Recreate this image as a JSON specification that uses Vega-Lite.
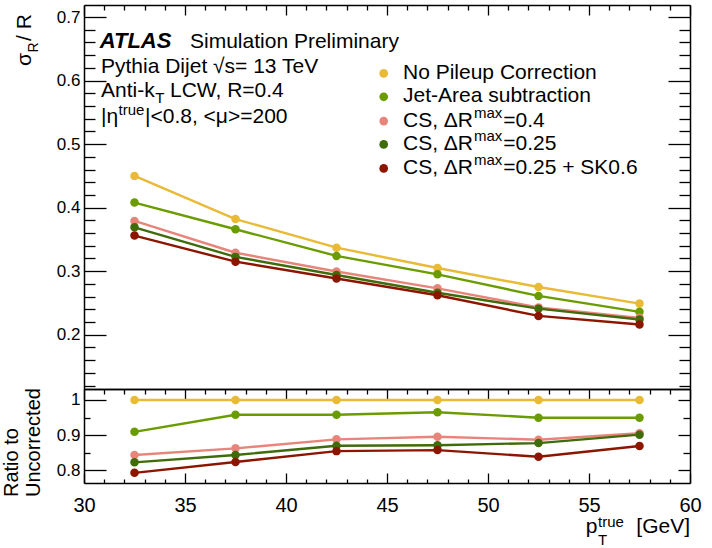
{
  "$schema": "https://vega.github.io/schema/vega-lite/v6.json",
  "background": "white",
  "padding": {"left": 2, "top": 4, "right": 0, "bottom": 0},
  "bounds": "flush",
  "spacing": 0,
  "config": {
    "view": {"stroke": null},
    "font": "Liberation Sans",
    "axis": {"domainColor": "black", "domainWidth": 1.5, "tickColor": "black", "tickWidth": 1.3, "labelColor": "black", "labelFont": "Liberation Sans", "grid": false, "title": null, "labelFlush": false, "labelOverlap": false}
  },
  "datasets": {
    "main": [
      {"m": "No Pileup Correction", "pt": 32.5, "v": 0.450}, {"m": "No Pileup Correction", "pt": 37.5, "v": 0.382}, {"m": "No Pileup Correction", "pt": 42.5, "v": 0.337}, {"m": "No Pileup Correction", "pt": 47.5, "v": 0.305}, {"m": "No Pileup Correction", "pt": 52.5, "v": 0.275}, {"m": "No Pileup Correction", "pt": 57.5, "v": 0.249},
      {"m": "Jet-Area subtraction", "pt": 32.5, "v": 0.408}, {"m": "Jet-Area subtraction", "pt": 37.5, "v": 0.366}, {"m": "Jet-Area subtraction", "pt": 42.5, "v": 0.324}, {"m": "Jet-Area subtraction", "pt": 47.5, "v": 0.295}, {"m": "Jet-Area subtraction", "pt": 52.5, "v": 0.261}, {"m": "Jet-Area subtraction", "pt": 57.5, "v": 0.236},
      {"m": "CS, ΔRmax=0.4", "pt": 32.5, "v": 0.379}, {"m": "CS, ΔRmax=0.4", "pt": 37.5, "v": 0.329}, {"m": "CS, ΔRmax=0.4", "pt": 42.5, "v": 0.2995}, {"m": "CS, ΔRmax=0.4", "pt": 47.5, "v": 0.273}, {"m": "CS, ΔRmax=0.4", "pt": 52.5, "v": 0.243}, {"m": "CS, ΔRmax=0.4", "pt": 57.5, "v": 0.2265},
      {"m": "CS, ΔRmax=0.25", "pt": 32.5, "v": 0.369}, {"m": "CS, ΔRmax=0.25", "pt": 37.5, "v": 0.3225}, {"m": "CS, ΔRmax=0.25", "pt": 42.5, "v": 0.294}, {"m": "CS, ΔRmax=0.25", "pt": 47.5, "v": 0.266}, {"m": "CS, ΔRmax=0.25", "pt": 52.5, "v": 0.241}, {"m": "CS, ΔRmax=0.25", "pt": 57.5, "v": 0.224},
      {"m": "CS, ΔRmax=0.25 + SK0.6", "pt": 32.5, "v": 0.356}, {"m": "CS, ΔRmax=0.25 + SK0.6", "pt": 37.5, "v": 0.315}, {"m": "CS, ΔRmax=0.25 + SK0.6", "pt": 42.5, "v": 0.2885}, {"m": "CS, ΔRmax=0.25 + SK0.6", "pt": 47.5, "v": 0.262}, {"m": "CS, ΔRmax=0.25 + SK0.6", "pt": 52.5, "v": 0.2296}, {"m": "CS, ΔRmax=0.25 + SK0.6", "pt": 57.5, "v": 0.216}
    ],
    "ratio": [
      {"m": "No Pileup Correction", "pt": 32.5, "v": 1.0}, {"m": "No Pileup Correction", "pt": 37.5, "v": 1.0}, {"m": "No Pileup Correction", "pt": 42.5, "v": 1.0}, {"m": "No Pileup Correction", "pt": 47.5, "v": 1.0}, {"m": "No Pileup Correction", "pt": 52.5, "v": 1.0}, {"m": "No Pileup Correction", "pt": 57.5, "v": 1.0},
      {"m": "Jet-Area subtraction", "pt": 32.5, "v": 0.909}, {"m": "Jet-Area subtraction", "pt": 37.5, "v": 0.958}, {"m": "Jet-Area subtraction", "pt": 42.5, "v": 0.958}, {"m": "Jet-Area subtraction", "pt": 47.5, "v": 0.965}, {"m": "Jet-Area subtraction", "pt": 52.5, "v": 0.9495}, {"m": "Jet-Area subtraction", "pt": 57.5, "v": 0.9495},
      {"m": "CS, ΔRmax=0.4", "pt": 32.5, "v": 0.843}, {"m": "CS, ΔRmax=0.4", "pt": 37.5, "v": 0.862}, {"m": "CS, ΔRmax=0.4", "pt": 42.5, "v": 0.8876}, {"m": "CS, ΔRmax=0.4", "pt": 47.5, "v": 0.895}, {"m": "CS, ΔRmax=0.4", "pt": 52.5, "v": 0.8867}, {"m": "CS, ΔRmax=0.4", "pt": 57.5, "v": 0.905},
      {"m": "CS, ΔRmax=0.25", "pt": 32.5, "v": 0.822}, {"m": "CS, ΔRmax=0.25", "pt": 37.5, "v": 0.843}, {"m": "CS, ΔRmax=0.25", "pt": 42.5, "v": 0.8695}, {"m": "CS, ΔRmax=0.25", "pt": 47.5, "v": 0.871}, {"m": "CS, ΔRmax=0.25", "pt": 52.5, "v": 0.877}, {"m": "CS, ΔRmax=0.25", "pt": 57.5, "v": 0.901},
      {"m": "CS, ΔRmax=0.25 + SK0.6", "pt": 32.5, "v": 0.792}, {"m": "CS, ΔRmax=0.25 + SK0.6", "pt": 37.5, "v": 0.823}, {"m": "CS, ΔRmax=0.25 + SK0.6", "pt": 42.5, "v": 0.854}, {"m": "CS, ΔRmax=0.25 + SK0.6", "pt": 47.5, "v": 0.857}, {"m": "CS, ΔRmax=0.25 + SK0.6", "pt": 52.5, "v": 0.838}, {"m": "CS, ΔRmax=0.25 + SK0.6", "pt": 57.5, "v": 0.8686}
    ],
    "txt": [
      {"t": "Simulation Preliminary", "x": 35.248, "y": 0.652},
      {"t": "Pythia Dijet √s= 13 TeV", "x": 30.842, "y": 0.6118},
      {"t": "Anti-k", "x": 30.842, "y": 0.574},
      {"t": "LCW, R=0.4", "x": 34.257, "y": 0.574},
      {"t": "|η", "x": 30.842, "y": 0.5331},
      {"t": "|<0.8, <μ>=200", "x": 33.02, "y": 0.5331},
      {"t": "No Pileup Correction", "x": 45.792, "y": 0.60268},
      {"t": "Jet-Area subtraction", "x": 45.792, "y": 0.56583},
      {"t": "CS, ΔR", "x": 45.792, "y": 0.52756},
      {"t": "CS, ΔR", "x": 45.792, "y": 0.49087},
      {"t": "CS, ΔR", "x": 45.792, "y": 0.45307},
      {"t": "=0.4", "x": 50.757, "y": 0.52756},
      {"t": "=0.25", "x": 50.757, "y": 0.49087},
      {"t": "=0.25 + SK0.6", "x": 50.757, "y": 0.45307}
    ],
    "sup": [
      {"t": "T", "x": 33.525, "y": 0.5646},
      {"t": "true", "x": 31.708, "y": 0.5457},
      {"t": "max", "x": 49.307, "y": 0.5409},
      {"t": "max", "x": 49.307, "y": 0.5042},
      {"t": "max", "x": 49.307, "y": 0.4664}
    ],
    "atlas": [{"t": "ATLAS", "x": 30.777, "y": 0.652}],
    "legdot": [
      {"m": "No Pileup Correction", "x": 44.837, "y": 0.61134},
      {"m": "Jet-Area subtraction", "x": 44.837, "y": 0.57449},
      {"m": "CS, ΔRmax=0.4", "x": 44.837, "y": 0.53622},
      {"m": "CS, ΔRmax=0.25", "x": 44.837, "y": 0.49953},
      {"m": "CS, ΔRmax=0.25 + SK0.6", "x": 44.837, "y": 0.46173}
    ],
    "ytitle": [
      {"t": "σ", "x": 27.376, "y": 0.6228},
      {"t": " / R", "x": 27.376, "y": 0.6625}
    ],
    "ytitlesub": [{"t": "R", "x": 27.723, "y": 0.6441}],
    "rtitle": [
      {"t": "Ratio to", "x": 26.733, "y": 0.7229},
      {"t": "Uncorrected", "x": 27.822, "y": 0.7229}
    ],
    "xtl": [{"t": "p", "x": 54.837, "y": 0.62}],
    "xtr": [{"t": "[GeV]", "x": 60, "y": 0.62}],
    "xts": [
      {"t": "T", "x": 55.446, "y": 0.5857},
      {"t": "true", "x": 55.446, "y": 0.6386}
    ]
  },
  "vconcat": [
    {
      "width": 606,
      "height": 384,
      "layer": [
        {
          "data": {"name": "main"},
          "mark": {"type": "line", "strokeWidth": 2.4},
          "encoding": {
            "x": {"field": "pt", "type": "quantitative", "scale": {"domain": [30, 60], "nice": false, "zero": false}, "axis": {"orient": "bottom", "labels": false, "ticks": false, "title": null}},
            "y": {"field": "v", "type": "quantitative", "scale": {"domain": [0.1145, 0.719], "nice": false, "zero": false}, "axis": {"orient": "left", "values": [0.12, 0.14, 0.16, 0.18, 0.2, 0.22, 0.24, 0.26, 0.28, 0.3, 0.32, 0.34, 0.36, 0.38, 0.4, 0.42, 0.44, 0.46, 0.48, 0.5, 0.52, 0.54, 0.56, 0.58, 0.6, 0.62, 0.64, 0.66, 0.68, 0.7], "tickSize": {"condition": {"test": "abs(datum.value*10-round(datum.value*10))<0.001", "value": -22}, "value": -11}, "labelExpr": "abs(datum.value*10-round(datum.value*10))<0.001 ? format(datum.value, '.1f') : ''", "labelPadding": 26, "labelFontSize": 17, "title": null}},
            "color": {"field": "m", "type": "nominal", "scale": {"domain": ["No Pileup Correction", "Jet-Area subtraction", "CS, ΔRmax=0.4", "CS, ΔRmax=0.25", "CS, ΔRmax=0.25 + SK0.6"], "range": ["#E8BA35", "#6A9C00", "#E8857A", "#3F6B0A", "#8C1500"]}, "legend": null}
          }
        },
        {
          "data": {"name": "main"},
          "mark": {"type": "circle", "size": 72, "opacity": 1},
          "encoding": {
            "x": {"field": "pt", "type": "quantitative", "scale": {"domain": [30, 60], "nice": false, "zero": false}, "axis": {"orient": "top", "values": [30, 31, 32, 33, 34, 35, 36, 37, 38, 39, 40, 41, 42, 43, 44, 45, 46, 47, 48, 49, 50, 51, 52, 53, 54, 55, 56, 57, 58, 59, 60], "tickSize": {"condition": {"test": "datum.value % 5 === 0", "value": -10}, "value": -5}, "labels": false, "title": null}},
            "y": {"field": "v", "type": "quantitative", "scale": {"domain": [0.1145, 0.719], "nice": false, "zero": false}, "axis": {"orient": "right", "values": [0.12, 0.14, 0.16, 0.18, 0.2, 0.22, 0.24, 0.26, 0.28, 0.3, 0.32, 0.34, 0.36, 0.38, 0.4, 0.42, 0.44, 0.46, 0.48, 0.5, 0.52, 0.54, 0.56, 0.58, 0.6, 0.62, 0.64, 0.66, 0.68, 0.7], "tickSize": {"condition": {"test": "abs(datum.value*10-round(datum.value*10))<0.001", "value": -22}, "value": -11}, "labels": false, "title": null}},
            "color": {"field": "m", "type": "nominal", "legend": null}
          }
        },
        {
          "data": {"name": "legdot"},
          "mark": {"type": "circle", "size": 75, "opacity": 1},
          "encoding": {
            "x": {"field": "x", "type": "quantitative", "scale": {"domain": [30, 60], "nice": false, "zero": false}, "axis": null},
            "y": {"field": "y", "type": "quantitative", "scale": {"domain": [0.1145, 0.719], "nice": false, "zero": false}, "axis": null},
            "color": {"field": "m", "type": "nominal", "legend": null}
          }
        },
        {
          "data": {"name": "txt"},
          "mark": {"type": "text", "align": "left", "baseline": "alphabetic", "fontSize": 21, "font": "Liberation Sans", "color": "black"},
          "encoding": {
            "x": {"field": "x", "type": "quantitative", "scale": {"domain": [30, 60], "nice": false, "zero": false}, "axis": null},
            "y": {"field": "y", "type": "quantitative", "scale": {"domain": [0.1145, 0.719], "nice": false, "zero": false}, "axis": null},
            "text": {"field": "t"}
          }
        },
        {
          "data": {"name": "atlas"},
          "mark": {"type": "text", "align": "left", "baseline": "alphabetic", "fontSize": 22, "font": "Liberation Sans", "fontWeight": "bold", "fontStyle": "italic", "color": "black"},
          "encoding": {
            "x": {"field": "x", "type": "quantitative", "scale": {"domain": [30, 60], "nice": false, "zero": false}, "axis": null},
            "y": {"field": "y", "type": "quantitative", "scale": {"domain": [0.1145, 0.719], "nice": false, "zero": false}, "axis": null},
            "text": {"field": "t"}
          }
        },
        {
          "data": {"name": "sup"},
          "mark": {"type": "text", "align": "left", "baseline": "alphabetic", "fontSize": 15, "font": "Liberation Sans", "color": "black"},
          "encoding": {
            "x": {"field": "x", "type": "quantitative", "scale": {"domain": [30, 60], "nice": false, "zero": false}, "axis": null},
            "y": {"field": "y", "type": "quantitative", "scale": {"domain": [0.1145, 0.719], "nice": false, "zero": false}, "axis": null},
            "text": {"field": "t"}
          }
        },
        {
          "data": {"name": "ytitle"},
          "mark": {"type": "text", "align": "left", "baseline": "alphabetic", "angle": 270, "fontSize": 21, "font": "Liberation Sans", "color": "black"},
          "encoding": {
            "x": {"field": "x", "type": "quantitative", "scale": {"domain": [30, 60], "nice": false, "zero": false}, "axis": null},
            "y": {"field": "y", "type": "quantitative", "scale": {"domain": [0.1145, 0.719], "nice": false, "zero": false}, "axis": null},
            "text": {"field": "t"}
          }
        },
        {
          "data": {"name": "ytitlesub"},
          "mark": {"type": "text", "align": "left", "baseline": "alphabetic", "angle": 270, "fontSize": 14, "font": "Liberation Sans", "color": "black"},
          "encoding": {
            "x": {"field": "x", "type": "quantitative", "scale": {"domain": [30, 60], "nice": false, "zero": false}, "axis": null},
            "y": {"field": "y", "type": "quantitative", "scale": {"domain": [0.1145, 0.719], "nice": false, "zero": false}, "axis": null},
            "text": {"field": "t"}
          }
        }
      ],
      "resolve": {"axis": {"x": "independent", "y": "independent"}}
    },
    {
      "width": 606,
      "height": 94,
      "layer": [
        {
          "data": {"name": "ratio"},
          "mark": {"type": "line", "strokeWidth": 2.4},
          "encoding": {
            "x": {"field": "pt", "type": "quantitative", "scale": {"domain": [30, 60], "nice": false, "zero": false}, "axis": {"orient": "bottom", "values": [30, 31, 32, 33, 34, 35, 36, 37, 38, 39, 40, 41, 42, 43, 44, 45, 46, 47, 48, 49, 50, 51, 52, 53, 54, 55, 56, 57, 58, 59, 60], "tickSize": {"condition": {"test": "datum.value % 5 === 0", "value": -10}, "value": -4}, "labelExpr": "datum.value % 5 === 0 ? datum.label : ''", "labelPadding": 22, "labelFontSize": 20, "title": null}},
            "y": {"field": "v", "type": "quantitative", "scale": {"domain": [0.763, 1.0314], "nice": false, "zero": false}, "axis": {"orient": "left", "values": [0.8, 0.85, 0.9, 0.95, 1], "tickSize": {"condition": {"test": "abs(datum.value*10-round(datum.value*10))<0.001", "value": -22}, "value": -6}, "labelExpr": "abs(datum.value*10-round(datum.value*10))<0.001 ? (datum.value == 1 ? '1' : format(datum.value, '.1f')) : ''", "labelPadding": 26, "labelFontSize": 17, "title": null}},
            "color": {"field": "m", "type": "nominal", "scale": {"domain": ["No Pileup Correction", "Jet-Area subtraction", "CS, ΔRmax=0.4", "CS, ΔRmax=0.25", "CS, ΔRmax=0.25 + SK0.6"], "range": ["#E8BA35", "#6A9C00", "#E8857A", "#3F6B0A", "#8C1500"]}, "legend": null}
          }
        },
        {
          "data": {"name": "ratio"},
          "mark": {"type": "circle", "size": 72, "opacity": 1},
          "encoding": {
            "x": {"field": "pt", "type": "quantitative", "scale": {"domain": [30, 60], "nice": false, "zero": false}, "axis": {"orient": "top", "values": [30, 31, 32, 33, 34, 35, 36, 37, 38, 39, 40, 41, 42, 43, 44, 45, 46, 47, 48, 49, 50, 51, 52, 53, 54, 55, 56, 57, 58, 59, 60], "tickSize": {"condition": {"test": "datum.value % 5 === 0", "value": -10}, "value": -5}, "labels": false, "title": null}},
            "y": {"field": "v", "type": "quantitative", "scale": {"domain": [0.763, 1.0314], "nice": false, "zero": false}, "axis": {"orient": "right", "values": [0.8, 0.85, 0.9, 0.95, 1], "tickSize": {"condition": {"test": "abs(datum.value*10-round(datum.value*10))<0.001", "value": -12}, "value": -7}, "labels": false, "title": null}},
            "color": {"field": "m", "type": "nominal", "legend": null}
          }
        },
        {
          "data": {"name": "rtitle"},
          "mark": {"type": "text", "align": "left", "baseline": "alphabetic", "angle": 270, "fontSize": 20, "font": "Liberation Sans", "color": "black"},
          "encoding": {
            "x": {"field": "x", "type": "quantitative", "scale": {"domain": [30, 60], "nice": false, "zero": false}, "axis": null},
            "y": {"field": "y", "type": "quantitative", "scale": {"domain": [0.763, 1.0314], "nice": false, "zero": false}, "axis": null},
            "text": {"field": "t"}
          }
        },
        {
          "data": {"name": "xtl"},
          "mark": {"type": "text", "align": "left", "baseline": "alphabetic", "fontSize": 21, "font": "Liberation Sans", "color": "black"},
          "encoding": {
            "x": {"field": "x", "type": "quantitative", "scale": {"domain": [30, 60], "nice": false, "zero": false}, "axis": null},
            "y": {"field": "y", "type": "quantitative", "scale": {"domain": [0.763, 1.0314], "nice": false, "zero": false}, "axis": null},
            "text": {"field": "t"}
          }
        },
        {
          "data": {"name": "xtr"},
          "mark": {"type": "text", "align": "right", "baseline": "alphabetic", "fontSize": 21, "font": "Liberation Sans", "color": "black"},
          "encoding": {
            "x": {"field": "x", "type": "quantitative", "scale": {"domain": [30, 60], "nice": false, "zero": false}, "axis": null},
            "y": {"field": "y", "type": "quantitative", "scale": {"domain": [0.763, 1.0314], "nice": false, "zero": false}, "axis": null},
            "text": {"field": "t"}
          }
        },
        {
          "data": {"name": "xts"},
          "mark": {"type": "text", "align": "left", "baseline": "alphabetic", "fontSize": 15, "font": "Liberation Sans", "color": "black"},
          "encoding": {
            "x": {"field": "x", "type": "quantitative", "scale": {"domain": [30, 60], "nice": false, "zero": false}, "axis": null},
            "y": {"field": "y", "type": "quantitative", "scale": {"domain": [0.763, 1.0314], "nice": false, "zero": false}, "axis": null},
            "text": {"field": "t"}
          }
        }
      ],
      "resolve": {"axis": {"x": "independent", "y": "independent"}}
    }
  ]
}
